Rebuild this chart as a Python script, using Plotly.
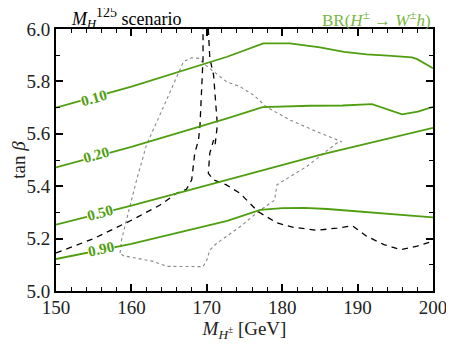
import plotly.graph_objects as go

# BR(H+ -> W+ h) contours
br010_x = [150, 160, 172.7, 177.5, 181, 185, 188.2, 191.2, 194, 197.2, 197.9, 200]
br010_y = [5.70, 5.78, 5.894, 5.945, 5.945, 5.93, 5.913, 5.903, 5.898, 5.892, 5.885, 5.85]
br020_x = [150, 160, 172.7, 177.4, 183.7, 188, 191.9, 195.9, 198, 200]
br020_y = [5.472, 5.55, 5.659, 5.702, 5.707, 5.708, 5.713, 5.674, 5.685, 5.703]
br050_x = [150, 160, 172.7, 185, 200]
br050_y = [5.253, 5.326, 5.424, 5.52, 5.623]
br090_x = [150, 160, 172.7, 177.1, 180, 182.9, 186, 190.3, 195, 200]
br090_y = [5.122, 5.18, 5.268, 5.31, 5.316, 5.317, 5.313, 5.304, 5.293, 5.281]
labels = ["0.10", "0.20", "0.50", "0.90"]
label_x = [155.1, 155.3, 155.8, 156.0]
label_y = [5.735, 5.52, 5.298, 5.16]
label_ang = [-16, -16, -15, -12]

# dashed exclusion contour
dash_x = [150, 155, 160, 161.1, 163.8, 166.0, 167.3, 168.0, 168.2, 168.4, 168.9, 169.1,
          169.3, 169.5, 169.5, None, 170.2, 170.4, 170.9, 171.3, 171.4, 171.1, 170.9, 170.4,
          170.2, 170.2, 170.9, 172.6, 174.4, 176.8, 179.3, 181.5, 184.6, 187.3, 189.3,
          191.2, 193.5, 195.7, 197.9, 200]
dash_y = [5.145, 5.20, 5.27, 5.286, 5.328, 5.373, 5.388, 5.424, 5.474, 5.526, 5.576, 5.634,
          5.761, 5.888, 6.0, None, 6.0, 5.888, 5.824, 5.697, 5.634, 5.557, 5.576, 5.526,
          5.474, 5.449, 5.424, 5.405, 5.373, 5.303, 5.26, 5.243, 5.232, 5.24, 5.249,
          5.209, 5.177, 5.158, 5.171, 5.19]

# dotted contour
dot_x = [158.5, 158.7, 159.8, 160.7, 162.0, 163.8, 165.6, 166.9, 168.0, 168.9, 169.8,
         170.9, 172.6, 174.4, 176.2, 177.9, 181.0, 184.6, 187.9, 187.2, 185.5, 183.2,
         181.0, 179.3, 179.0, 177.1, 174.4, 171.3, 170.4, 170.0, 169.5, 164.7, 162.9,
         160.3, 158.9, 158.5]
dot_y = [5.145, 5.196, 5.323, 5.425, 5.557, 5.672, 5.786, 5.875, 5.89, 5.888, 5.863,
         5.837, 5.799, 5.78, 5.748, 5.703, 5.653, 5.608, 5.57, 5.564, 5.526, 5.474,
         5.436, 5.405, 5.347, 5.309, 5.245, 5.182, 5.156, 5.118, 5.093, 5.094, 5.113,
         5.126, 5.135, 5.145]

green = "#4f9e0f"
font = "Liberation Serif, Times New Roman, serif"

fig = go.Figure()

fig.add_trace(go.Scatter(x=dot_x, y=dot_y, mode="lines",
                         line=dict(color="#888888", width=1.1, dash="dot")))
fig.add_trace(go.Scatter(x=dash_x, y=dash_y, mode="lines",
                         line=dict(color="black", width=1.3, dash="6px,5px")))
for xs, ys in [(br010_x, br010_y), (br020_x, br020_y), (br050_x, br050_y), (br090_x, br090_y)]:
    fig.add_trace(go.Scatter(x=xs, y=ys, mode="lines", line=dict(color=green, width=1.8)))

for t, lx, ly, a in zip(labels, label_x, label_y, label_ang):
    fig.add_annotation(x=lx, y=ly, text="<b>" + t + "</b>", showarrow=False, textangle=a,
                       bgcolor="white", font=dict(family=font, size=15, color=green), borderpad=0)

fig.add_annotation(xref="paper", yref="paper", x=0.035, y=1.0, xanchor="left", yanchor="bottom",
                   yshift=-4,
                   text="<i>M</i><sub><i>H</i></sub><sup><span style='font-size:14px'>125</span></sup> scenario",
                   showarrow=False, font=dict(family=font, size=18, color="black"))
fig.add_annotation(xref="paper", yref="paper", x=1.0, y=1.0, xanchor="right", yanchor="bottom",
                   yshift=-3,
                   text="BR(<i>H</i><sup><span style='font-size:13px'>±</span></sup> → "
                        "<i>W</i><sup><span style='font-size:13px'>±</span></sup><i>h</i>)",
                   showarrow=False, font=dict(family=font, size=17, color="#78b843"))

axis = dict(showgrid=False, zeroline=False, showline=True, linecolor="black", linewidth=2,
            mirror="ticks", ticks="inside", ticklen=7, tickwidth=1.5, tickcolor="black",
            automargin=False, tickfont=dict(family=font, size=19, color="#222222"))
fig.update_xaxes(range=[150, 200], dtick=10, tick0=150, ticklabelstandoff=-2,
                 minor=dict(dtick=2, ticks="inside", ticklen=4, tickcolor="black", tickwidth=1),
                 title=dict(text="<i>M</i><sub><i>H</i><sup>±</sup></sub> [GeV]", standoff=0,
                            font=dict(family=font, size=19, color="#222222")),
                 **axis)
fig.update_yaxes(range=[5, 6], dtick=0.2, tick0=5, tickformat=".1f",
                 minor=dict(dtick=0.1, ticks="inside", ticklen=4, tickcolor="black", tickwidth=1),
                 title=dict(text="tan <i>β</i>", standoff=2,
                            font=dict(family=font, size=19, color="#222222")),
                 **axis)

# page body has an 8px margin, so the figure is sized for the visible area
fig.update_layout(width=446, height=338, margin=dict(l=48, r=21, t=21, b=55),
                  plot_bgcolor="white", paper_bgcolor="white", showlegend=False)

fig.write_html("out.html")
